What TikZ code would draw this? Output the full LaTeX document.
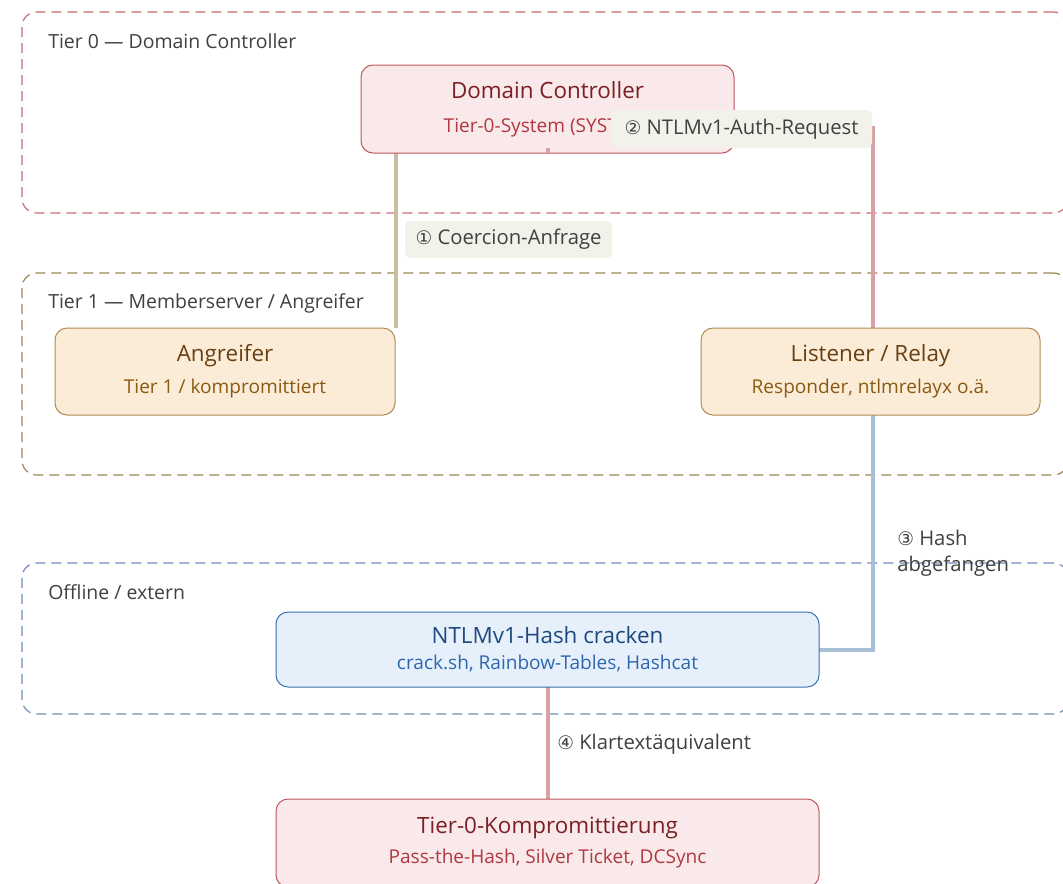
\documentclass[tikz,border=0pt]{standalone}
\usepackage{fontspec}
\setmainfont{Open Sans}
\newfontfamily\symf{DejaVu Sans}
\usetikzlibrary{positioning}
\definecolor{gZero}{HTML}{CD6B74}
\definecolor{gOne}{HTML}{9C8555}
\definecolor{gOff}{HTML}{6C8DB8}
\definecolor{redFill}{HTML}{FAE9EA}
\definecolor{redDraw}{HTML}{C0555F}
\definecolor{redTitle}{HTML}{7A1F24}
\definecolor{redSub}{HTML}{B0383F}
\definecolor{orFill}{HTML}{FBECD8}
\definecolor{orDraw}{HTML}{B08A55}
\definecolor{orTitle}{HTML}{6B3F10}
\definecolor{orSub}{HTML}{8A5A12}
\definecolor{blFill}{HTML}{E6F0FA}
\definecolor{blDraw}{HTML}{3A6FB0}
\definecolor{blTitle}{HTML}{1F4A80}
\definecolor{blSub}{HTML}{2F66B0}
\definecolor{eOne}{HTML}{C8BD9E}
\definecolor{eRed}{HTML}{D9A0A5}
\definecolor{eBlue}{HTML}{A8BFD8}
\definecolor{lblFill}{HTML}{F2F1EA}
\definecolor{txt}{HTML}{404040}
\newcommand{\lsk}[1]{\fontsize{10pt}{#1}\selectfont\lineskiplimit=-30pt\relax}
\tikzset{
  grp/.style={draw=#1, dashed, dash pattern=on 7.5pt off 4.5pt, line width=0.9pt, rounded corners=11pt, inner sep=0pt},
  grplabel/.style={anchor=west, text=txt, font=\fontsize{14.6pt}{17pt}\selectfont, inner sep=0pt},
  box/.style={rounded corners=9pt, line width=0.75pt, inner sep=0pt, align=center},
  redbox/.style={box, draw=redDraw, fill=redFill},
  orbox/.style={box, draw=orDraw, fill=orFill},
  blbox/.style={box, draw=blDraw, fill=blFill},
  edge/.style={line width=2.4pt, draw=#1},
  elabel/.style={fill=lblFill, rounded corners=4pt, text=txt, inner sep=0pt, font=\fontsize{15.2pt}{18pt}\selectfont},
  flabel/.style={text=txt, inner sep=0pt, font=\lsk{19.5pt}\fontsize{15.2pt}{19.5pt}\selectfont, align=left, anchor=west},
}
\newcommand{\ttl}[2]{{\fontsize{16.8pt}{19pt}\selectfont\color{#1}#2}}
\newcommand{\sbt}[2]{{\fontsize{14.3pt}{17pt}\selectfont\color{#1}#2}}
\newcommand{\cn}[1]{{\symf\fontsize{14pt}{17pt}\selectfont #1}}
\begin{document}
\begin{tikzpicture}[x=0.75pt,y=-0.75pt]
\clip (0,0) rectangle (1063,883);
\fill[white] (0,0) rectangle (1063,883);
% groups
\node[grp=gZero, minimum width=1046*0.75pt, minimum height=201*0.75pt] (g0) at (545,112.5) {};
\node[grp=gOne, minimum width=1046*0.75pt, minimum height=202*0.75pt] (g1) at (545,374) {};
\node[grp=gOff, minimum width=1046*0.75pt, minimum height=151*0.75pt] (g2) at (545,638.5) {};
\node[grplabel] (g0l) at (48,41) {Tier 0 — Domain Controller};
\node[grplabel] (g1l) at (48,303) {Tier 1 — Memberserver / Angreifer};
\node[grplabel] (g2l) at (48,592) {Offline / extern};
% coordinates for nodes
\coordinate (dcC) at (547.5,109);
\coordinate (angC) at (225,371.5);
\coordinate (lrC) at (870.5,371.5);
\coordinate (hcC) at (547.5,649.5);
\coordinate (tkC) at (547.5,843);
% label node 1
\node[elabel, minimum width=207*0.75pt, minimum height=37*0.75pt] (l1) at (508.5,239.5) {\cn{①} Coercion-Anfrage};
% edges (drawn below nodes)
\coordinate (e2a) at (548,153);
\coordinate (e2b) at (548,128);
\coordinate (e2c) at (873,128);
\coordinate (e2d) at (873,328);
\draw[edge=eRed] (e2a) -- (e2b) -- (e2c) -- (e2d);
\coordinate (e1a) at (396,153);
\coordinate (e1b) at (396,328);
\draw[edge=eOne] (e1a) -- (e1b);
\coordinate (e3a) at (873,415);
\coordinate (e3b) at (873,650);
\coordinate (e3c) at (819,650);
\draw[edge=eBlue] (e3a) -- (e3b) -- (e3c);
\coordinate (e4a) at (548,687);
\coordinate (e4b) at (548,799);
\draw[edge=eRed] (e4a) -- (e4b);
% nodes
\node[redbox, minimum width=279.75pt, minimum height=66pt, font=\lsk{25.5pt}] (dc) at (dcC)
  {\ttl{redTitle}{Domain Controller}\\\sbt{redSub}{Tier-0-System (SYSTEM)}};
\node[orbox, minimum width=255pt, minimum height=65.25pt, font=\lsk{24pt}] (ang) at (angC)
  {\ttl{orTitle}{Angreifer}\\\sbt{orSub}{Tier 1 / kompromittiert}};
\node[orbox, minimum width=254.25pt, minimum height=65.25pt, font=\lsk{24pt}] (lr) at (lrC)
  {\ttl{orTitle}{Listener / Relay}\\\sbt{orSub}{Responder, ntlmrelayx o.ä.}};
\node[blbox, minimum width=407.25pt, minimum height=56.25pt, font=\lsk{19.5pt}] (hc) at (hcC)
  {\ttl{blTitle}{NTLMv1-Hash cracken}\\\sbt{blSub}{crack.sh, Rainbow-Tables, Hashcat}};
\node[redbox, minimum width=407.25pt, minimum height=66pt, font=\lsk{22.5pt}] (tk) at (tkC)
  {\ttl{redTitle}{Tier-0-Kompromittierung}\\\sbt{redSub}{Pass-the-Hash, Silver Ticket, DCSync}};
\draw[edge=eRed] (548,148) -- (e2a);
% edge labels on top
\node[elabel, minimum width=261*0.75pt, minimum height=38*0.75pt] (l2) at (741.5,129) {\cn{②} NTLMv1-Auth-Request};
\node[flabel] (l3) at (897,553) {\cn{③} Hash\\abgefangen};
\node[flabel] (l4) at (557,744) {\cn{④} Klartextäquivalent};
\end{tikzpicture}
\end{document}
